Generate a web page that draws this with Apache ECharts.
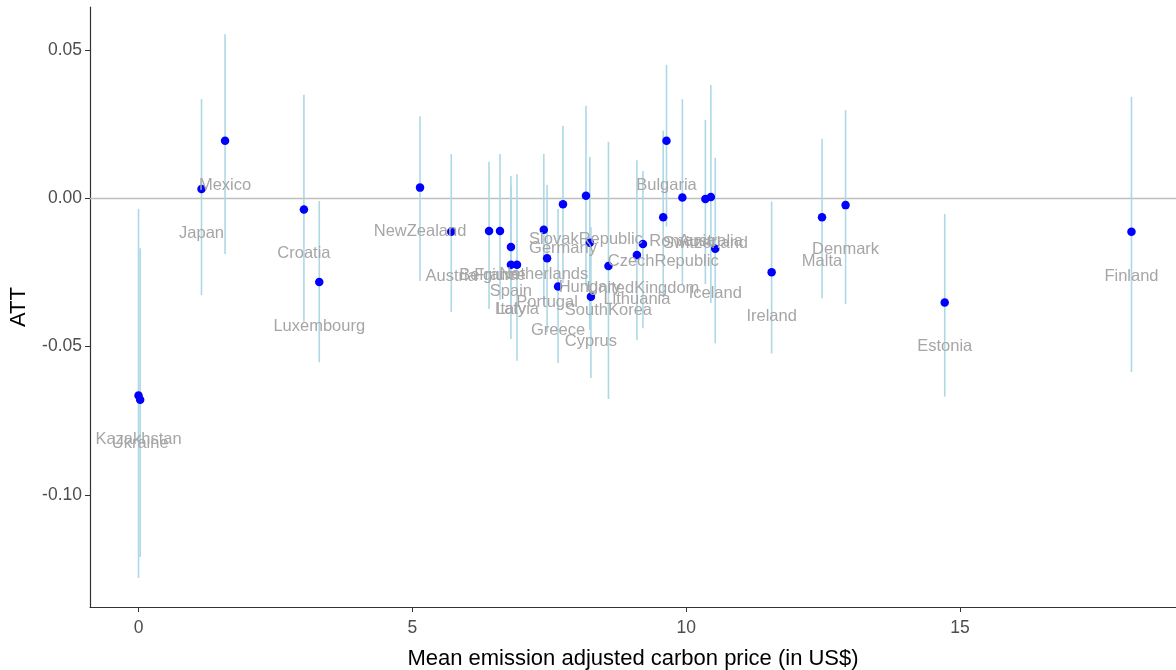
<!DOCTYPE html>
<html>
<head>
<meta charset="utf-8">
<script src="https://cdn.jsdelivr.net/npm/echarts@6/dist/echarts.min.js"></script>
<style>
html,body{margin:0;padding:0;background:#fff;}
#chart{width:1176px;height:670px;}
</style>
</head>
<body>
<div id="chart"></div>
<script>
const countries = ['Kazakhstan','Ukraine','Japan','Mexico','Croatia','Luxembourg','NewZealand','Austria','Belgium','France','Spain','Italy','Latvia','Netherlands','Portugal','Greece','Germany','SlovakRepublic','Hungary','Cyprus','SouthKorea','Lithuania','UnitedKingdom','CzechRepublic','Bulgaria','Romania','Switzerland','Australia','Iceland','Ireland','Malta','Denmark','Estonia','Finland'];
const carbonPrice = [0.00,0.03,1.15,1.58,3.02,3.30,5.14,5.71,6.40,6.60,6.80,6.80,6.91,7.40,7.46,7.66,7.75,8.17,8.24,8.26,8.58,9.10,9.21,9.58,9.64,9.93,10.35,10.45,10.53,11.56,12.48,12.91,14.72,18.13];
const att = [-0.0665,-0.0679,0.0031,0.0194,-0.0038,-0.0282,0.0036,-0.0113,-0.0110,-0.0110,-0.0164,-0.0224,-0.0224,-0.0106,-0.0202,-0.0297,-0.0020,0.0009,-0.0150,-0.0332,-0.0228,-0.0191,-0.0154,-0.0064,0.0194,0.0003,-0.0002,0.0004,-0.0170,-0.0249,-0.0064,-0.0023,-0.0351,-0.0113];
const ciLow = [-0.1280,-0.1209,-0.0326,-0.0188,-0.0416,-0.0553,-0.0279,-0.0383,-0.0373,-0.0343,-0.0377,-0.0474,-0.0548,-0.0360,-0.0451,-0.0555,-0.0286,-0.0296,-0.0444,-0.0606,-0.0677,-0.0478,-0.0438,-0.0326,-0.0096,-0.0289,-0.0289,-0.0353,-0.0489,-0.0523,-0.0337,-0.0356,-0.0669,-0.0586];
const ciHigh = [-0.0036,-0.0168,0.0335,0.0553,0.0349,-0.0009,0.0277,0.0149,0.0123,0.0149,0.0045,0.0075,0.0081,0.0149,0.0045,-0.0036,0.0245,0.0312,0.0139,-0.0097,0.0191,0.0128,0.0092,0.0228,0.0450,0.0334,0.0264,0.0382,0.0137,-0.0011,0.0201,0.0297,-0.0053,0.0342];
const xTicks = [0,5,10,15];
const yTicks = [-0.10,-0.05,0.00,0.05];

const chart = echarts.init(document.getElementById('chart'), null, {renderer:'canvas'});
const barData = countries.map((c,i)=>[carbonPrice[i], ciLow[i], ciHigh[i]]);
const pointData = countries.map((c,i)=>({name:c, value:[carbonPrice[i], att[i]]}));
const font = 'Liberation Sans, Arial, sans-serif';

chart.setOption({
  animation:false,
  backgroundColor:'#ffffff',
  grid:{left:90, right:0, top:7, bottom:63, containLabel:false, outerBoundsMode:'none'},
  xAxis:{
    type:'value', min:-0.886, max:18.943,
    name:'Mean emission adjusted carbon price (in US$)',
    nameLocation:'middle', nameGap:41,
    nameTextStyle:{color:'#000', fontSize:22, fontFamily:font},
    axisLine:{show:true, onZero:false, lineStyle:{color:'#333', width:1.2}},
    axisTick:{show:true, length:5, customValues:xTicks, lineStyle:{color:'#333'}},
    axisLabel:{customValues:xTicks, color:'#4D4D4D', fontSize:17.5, fontFamily:font, margin:12},
    splitLine:{show:false}
  },
  yAxis:{
    type:'value', min:-0.1378, max:0.0645,
    name:'ATT', nameLocation:'middle', nameGap:60,
    nameTextStyle:{color:'#000', fontSize:22, fontFamily:font},
    axisLine:{show:true, onZero:false, lineStyle:{color:'#333', width:1.2}},
    axisTick:{show:true, length:5, customValues:yTicks, lineStyle:{color:'#333'}},
    axisLabel:{customValues:yTicks, color:'#4D4D4D', fontSize:17.5, fontFamily:font, margin:8,
      formatter:v=>v.toFixed(2)},
    splitLine:{show:false}
  },
  series:[
    {
      type:'custom', z:2,
      data:barData,
      encode:{x:0, y:[1,2]},
      renderItem:function(params, api){
        const p1 = api.coord([api.value(0), api.value(1)]);
        const p2 = api.coord([api.value(0), api.value(2)]);
        return {type:'line', shape:{x1:p1[0], y1:p1[1], x2:p2[0], y2:p2[1]},
          style:{stroke:'#ADD8E6', lineWidth:1.6}};
      },
      markLine:{
        silent:true, symbol:['none','none'], z:1,
        label:{show:false},
        lineStyle:{color:'#BEBEBE', width:1.4, type:'solid'},
        data:[{yAxis:0}]
      }
    },
    {
      type:'scatter', z:3,
      symbol:'circle', symbolSize:8.5,
      itemStyle:{color:'#0000FF', opacity:1},
      data:pointData,
      label:{
        show:true, position:['50%', 48.5], align:'center', verticalAlign:'middle',
        formatter:p=>p.name,
        color:'#A6A6A6', fontSize:16.5, fontFamily:font
      },
      labelLayout:{hideOverlap:false}
    }
  ]
});
</script>
</body>
</html>
